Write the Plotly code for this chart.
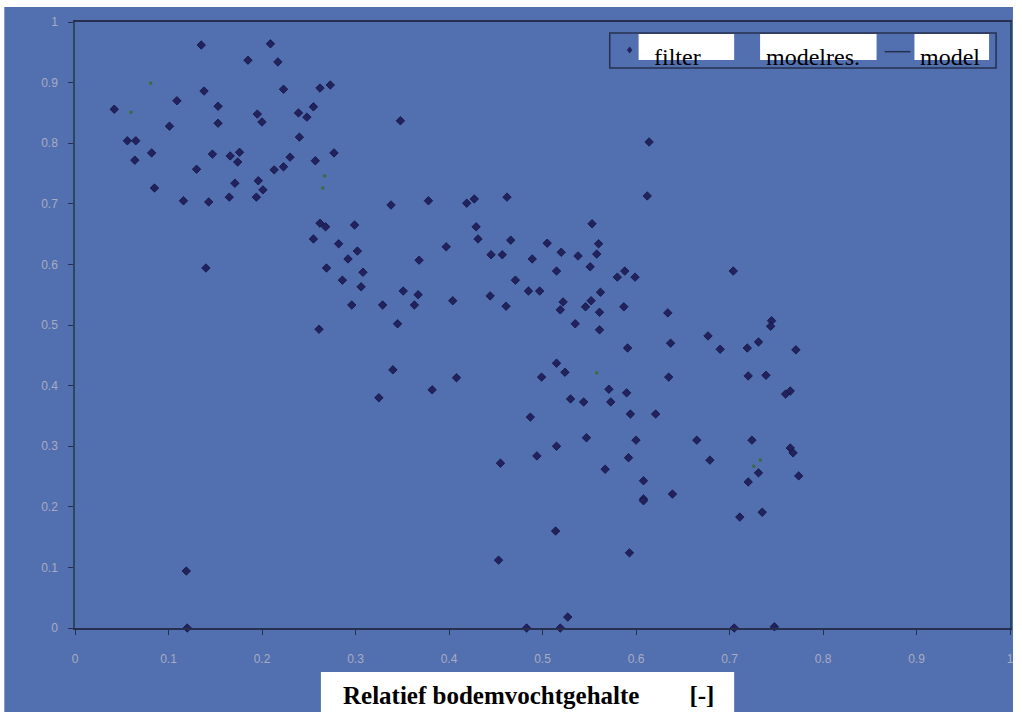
import plotly.graph_objects as go

# Measured points ("filter"): relative soil moisture vs. normalised response
filter_x = [
    0.042, 0.056, 0.065, 0.064, 0.082, 0.085, 0.109, 0.101, 0.116, 0.119,
    0.120, 0.130, 0.135, 0.138, 0.140, 0.143, 0.147, 0.153, 0.153, 0.165,
    0.166, 0.171, 0.174, 0.176, 0.185, 0.194, 0.195, 0.196, 0.200, 0.201,
    0.209, 0.213, 0.217, 0.223, 0.223, 0.230, 0.239, 0.240, 0.248, 0.255,
    0.257, 0.262, 0.273, 0.277,
    0.348, 0.338, 0.378, 0.419, 0.427, 0.462, 0.262, 0.268, 0.299, 0.255,
    0.282, 0.302, 0.292, 0.269, 0.308, 0.286, 0.306, 0.296, 0.329, 0.351,
    0.367, 0.363, 0.404, 0.345, 0.261, 0.397, 0.368, 0.429, 0.431, 0.466,
    0.445, 0.457, 0.471, 0.485, 0.497, 0.444, 0.461, 0.340, 0.408, 0.382,
    0.325, 0.455,
    0.612, 0.553, 0.505, 0.520, 0.560, 0.558, 0.538, 0.489, 0.515, 0.551,
    0.580, 0.588, 0.599, 0.704, 0.562, 0.522, 0.519, 0.552, 0.546, 0.561,
    0.587, 0.634, 0.535, 0.561, 0.745, 0.744, 0.677, 0.637, 0.591, 0.690,
    0.719, 0.731, 0.771, 0.515, 0.524, 0.499, 0.635, 0.720, 0.739, 0.765,
    0.760, 0.571, 0.590, 0.530, 0.544, 0.573, 0.487, 0.594, 0.621, 0.547,
    0.515, 0.494, 0.600, 0.665, 0.724, 0.765, 0.768, 0.679, 0.592, 0.567,
    0.731, 0.720, 0.774, 0.608, 0.608, 0.608, 0.639, 0.711, 0.735, 0.514,
    0.453, 0.593, 0.527, 0.483, 0.519, 0.705, 0.748, 0.614,
]
filter_y = [
    0.856, 0.804, 0.804, 0.772, 0.784, 0.726, 0.870, 0.828, 0.705, 0.094,
    0.000, 0.757, 0.962, 0.886, 0.594, 0.703, 0.782, 0.861, 0.833, 0.711,
    0.779, 0.734, 0.769, 0.785, 0.937, 0.711, 0.848, 0.738, 0.835, 0.723,
    0.964, 0.756, 0.934, 0.889, 0.761, 0.777, 0.850, 0.810, 0.843, 0.860,
    0.771, 0.891, 0.896, 0.784,
    0.837, 0.698, 0.705, 0.701, 0.708, 0.711, 0.668, 0.662, 0.665, 0.642,
    0.634, 0.622, 0.609, 0.594, 0.587, 0.574, 0.563, 0.533, 0.533, 0.556,
    0.550, 0.533, 0.540, 0.502, 0.493, 0.629, 0.607, 0.662, 0.642, 0.640,
    0.616, 0.616, 0.574, 0.556, 0.556, 0.548, 0.531, 0.426, 0.413, 0.393,
    0.380, 0.272,
    0.713, 0.667, 0.635, 0.620, 0.634, 0.617, 0.614, 0.609, 0.589, 0.596,
    0.579, 0.589, 0.579, 0.589, 0.554, 0.538, 0.525, 0.540, 0.530, 0.521,
    0.530, 0.520, 0.502, 0.492, 0.507, 0.498, 0.482, 0.470, 0.462, 0.460,
    0.462, 0.472, 0.459, 0.437, 0.422, 0.414, 0.414, 0.416, 0.417, 0.391,
    0.386, 0.394, 0.388, 0.378, 0.373, 0.373, 0.348, 0.353, 0.353, 0.314,
    0.300, 0.284, 0.310, 0.310, 0.310, 0.297, 0.289, 0.277, 0.281, 0.262,
    0.256, 0.241, 0.251, 0.243, 0.213, 0.210, 0.221, 0.183, 0.191, 0.160,
    0.112, 0.124, 0.018, 0.000, 0.000, 0.000, 0.002, 0.802,
]

# Model residual points ("modelres.")
modelres_x = [0.081, 0.060, 0.267, 0.265, 0.558, 0.726, 0.733]
modelres_y = [0.899, 0.851, 0.746, 0.726, 0.421, 0.267, 0.277]

x_ticks = [0, 0.1, 0.2, 0.3, 0.4, 0.5, 0.6, 0.7, 0.8, 0.9, 1]
tick_text = ["0", "0.1", "0.2", "0.3", "0.4", "0.5", "0.6", "0.7", "0.8", "0.9", "1"]

legend_names = ["filter", "modelres.", "model"]
x_title = "Relatief bodemvochtgehalte" + "&nbsp;" * 8 + "[-]"

BLUE = "#5270b0"
DARK = "#26304e"
MARK = "#22225e"
TICK_FONT = dict(family="Liberation Sans, Arial, sans-serif", size=12, color="#a9abc2")
SERIF = "Liberation Serif, Times New Roman, serif"

fig = go.Figure()
fig.add_trace(go.Scatter(
    x=filter_x, y=filter_y, mode="markers", name=legend_names[0],
    marker=dict(symbol="diamond", size=6.5, color=MARK, line=dict(width=0.8, color="#141440")),
    cliponaxis=False, showlegend=False,
))
fig.add_trace(go.Scatter(
    x=modelres_x, y=modelres_y, mode="markers", name=legend_names[1],
    marker=dict(symbol="square", size=3, color="#3c6a3c"),
    cliponaxis=False, showlegend=False,
))

shapes = [
    # blue chart area
    dict(type="rect", xref="paper", yref="paper", x0=-0.0756, x1=1.0032, y0=-0.14, y1=1.0248,
         fillcolor=BLUE, line=dict(width=0), layer="below"),
    # white box behind the axis title
    dict(type="rect", xref="paper", yref="paper", x0=0.263, x1=0.705, y0=-0.14, y1=-0.0726,
         fillcolor="white", line=dict(width=0)),
    # legend frame
    dict(type="rect", xref="paper", yref="paper", x0=0.5719, x1=0.9851, y0=0.9241, y1=0.9818,
         fillcolor=BLUE, line=dict(width=1.5, color=DARK)),
    # legend label boxes
    dict(type="rect", xref="paper", yref="paper", x0=0.6028, x1=0.7050, y0=0.9373, y1=0.9802,
         fillcolor="white", line=dict(width=0)),
    dict(type="rect", xref="paper", yref="paper", x0=0.7327, x1=0.8573, y0=0.9373, y1=0.9802,
         fillcolor="white", line=dict(width=0)),
    dict(type="rect", xref="paper", yref="paper", x0=0.8978, x1=0.9776, y0=0.9373, y1=0.9802,
         fillcolor="white", line=dict(width=0)),
    # legend line sample for "model"
    dict(type="line", xref="paper", yref="paper", x0=0.8658, x1=0.8935, y0=0.951, y1=0.951,
         line=dict(width=1.5, color=DARK)),
    # legend marker sample for "filter"
    dict(type="path", xref="paper", yref="paper",
         path="M 0.5932 0.9596 L 0.5962 0.9538 L 0.5932 0.9480 L 0.5902 0.9538 Z",
         fillcolor=MARK, line=dict(width=0)),
]

LEG_FONT = dict(family=SERIF, size=24, color="#000")
annotations = [
    dict(text=legend_names[0], xref="paper", yref="paper", x=0.6443, y=0.9422,
         xanchor="center", yanchor="middle", showarrow=False, font=LEG_FONT),
    dict(text=legend_names[1], xref="paper", yref="paper", x=0.7891, y=0.9422,
         xanchor="center", yanchor="middle", showarrow=False, font=LEG_FONT),
    dict(text=legend_names[2], xref="paper", yref="paper", x=0.9361, y=0.9422,
         xanchor="center", yanchor="middle", showarrow=False, font=LEG_FONT),
    dict(text="<b>" + x_title + "</b>", xref="paper", yref="paper", x=0.4846, y=-0.1106,
         xanchor="center", yanchor="middle", showarrow=False,
         font=dict(family=SERIF, size=25, color="#000")),
]

fig.update_layout(
    width=1022, height=712,
    margin=dict(l=75, r=8, t=22, b=84),
    paper_bgcolor="white",
    plot_bgcolor="rgba(0,0,0,0)",
    shapes=shapes,
    annotations=annotations,
    showlegend=False,
)
fig.update_xaxes(
    range=[0, 1], tickvals=x_ticks, ticktext=tick_text,
    showgrid=False, zeroline=False,
    showline=True, linecolor=DARK, linewidth=2, mirror=True,
    ticks="outside", ticklen=5, tickcolor=DARK, tickwidth=1,
    tickfont=TICK_FONT, ticklabelstandoff=14,
)
fig.update_yaxes(
    range=[0, 1], tickvals=x_ticks, ticktext=tick_text,
    showgrid=False, zeroline=False,
    showline=True, linecolor="#2c4660", linewidth=1.5, mirror=True,
    ticks="outside", ticklen=5, tickcolor=DARK, tickwidth=1,
    tickfont=TICK_FONT, ticklabelstandoff=8,
)

fig.write_html("out.html")
